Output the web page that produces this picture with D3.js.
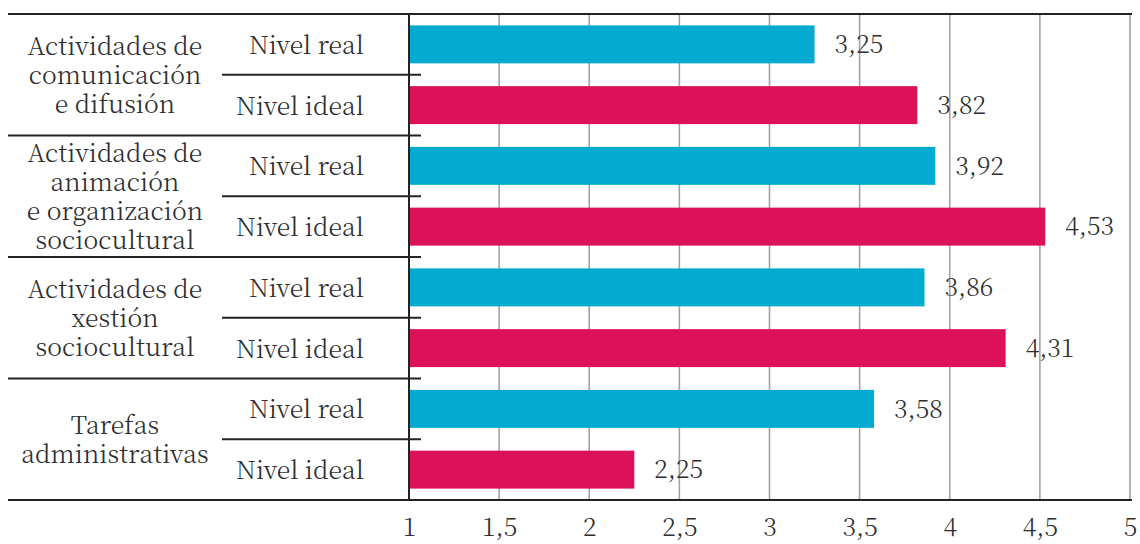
<!DOCTYPE html>
<html>
<head>
<meta charset="utf-8">
<script src="https://cdn.jsdelivr.net/npm/d3@7"></script>
<style>
  body { margin: 0; background: #fff; }
</style>
</head>
<body>
<div id="chart"></div>
<script>
// activity groups, each split into two levels
const groups = [
    ["Actividades de", "comunicación", "e difusión"],
    ["Actividades de", "animación", "e organización", "sociocultural"],
    ["Actividades de", "xestión", "sociocultural"],
    ["Tarefas", "administrativas"]
];
const levels = ["Nivel real", "Nivel ideal"];
const realValues = [3.25, 3.92, 3.86, 3.58];
const idealValues = [3.82, 4.53, 4.31, 2.25];
const xTicks = [1, 1.5, 2, 2.5, 3, 3.5, 4, 4.5, 5];
const levelColors = ["#03abd0", "#dc1159"];

const width = 1140, height = 544;
const plotTop = 14, plotBottom = 500, axisX = 409, plotRight = 1130;
const fontFamily = "'Noto Serif CJK SC', 'Liberation Serif', serif";
const fontSize = 25;
const textColor = "#2e2e2e";

// one row per group/level pair
let rows = [];
groups.forEach((g, i) => {
    rows.push({key: i + "-0", group: i, level: 0, value: realValues[i]});
    rows.push({key: i + "-1", group: i, level: 1, value: idealValues[i]});
});

const svg = d3.select("#chart").append("svg")
    .attr("width", width)
    .attr("height", height);

const x = d3.scaleLinear().domain([1, 5]).range([axisX, plotRight]);
const y = d3.scaleBand()
    .domain(rows.map(d => d.key))
    .range([plotTop, plotBottom])
    .paddingInner(0.375)
    .paddingOuter(0.1875);
const step = y.step();

function styleText(sel) {
    sel.style("font-family", fontFamily)
        .style("font-weight", 300)
        .style("font-size", fontSize + "px")
        .style("fill", textColor);
}

// vertical gridlines
svg.append("g")
    .selectAll("line")
    .data(xTicks.slice(1))
    .enter().append("line")
    .attr("x1", d => x(d)).attr("x2", d => x(d))
    .attr("y1", plotTop).attr("y2", plotBottom)
    .attr("stroke", "#a3a3a5")
    .attr("stroke-width", 1.6);

// bars
svg.append("g")
    .selectAll("rect")
    .data(rows)
    .enter().append("rect")
    .attr("x", x(1) + 1)
    .attr("y", d => y(d.key))
    .attr("width", d => x(d.value) - x(1) - 1)
    .attr("height", y.bandwidth())
    .attr("fill", d => levelColors[d.level]);

// value labels
svg.append("g")
    .selectAll("text")
    .data(rows)
    .enter().append("text")
    .attr("x", d => x(d.value) + 20)
    .attr("y", d => y(d.key) + y.bandwidth() / 2)
    .attr("dy", "0.35em")
    .call(styleText)
    .text(d => d3.format(".2f")(d.value).replace(".", ","));

// level labels
svg.append("g")
    .selectAll("text")
    .data(rows)
    .enter().append("text")
    .attr("x", 364)
    .attr("y", d => y(d.key) + y.bandwidth() / 2)
    .attr("dy", "0.38em")
    .attr("text-anchor", "end")
    .call(styleText)
    .text(d => levels[d.level]);

// group labels, centred on their two rows
const groupLabels = svg.append("g")
    .selectAll("text")
    .data(groups)
    .enter().append("text")
    .attr("text-anchor", "middle")
    .call(styleText)
    .attr("y", (d, i) => plotTop + step * (2 * i + 1));

groupLabels.selectAll("tspan")
    .data(d => d.map((t, j) => ({t: t, j: j, n: d.length})))
    .enter().append("tspan")
    .attr("x", 115)
    .attr("dy", d => d.j === 0 ? ((-(d.n - 1) / 2) * 29 + 9) + "px" : "29px")
    .text(d => d.t);

// separators: full width between groups, short between levels
const dark = "#232323";
svg.append("g")
    .selectAll("line")
    .data(d3.range(1, groups.length))
    .enter().append("line")
    .attr("x1", 8).attr("x2", axisX + 12)
    .attr("y1", d => plotTop + step * 2 * d).attr("y2", d => plotTop + step * 2 * d)
    .attr("stroke", dark).attr("stroke-width", 2);

svg.append("g")
    .selectAll("line")
    .data(groups.map((g, i) => i))
    .enter().append("line")
    .attr("x1", 222).attr("x2", axisX + 12)
    .attr("y1", d => plotTop + step * (2 * d + 1)).attr("y2", d => plotTop + step * (2 * d + 1))
    .attr("stroke", dark).attr("stroke-width", 2);

// frame lines and value axis
svg.append("line")
    .attr("x1", 8).attr("x2", 1132)
    .attr("y1", plotTop).attr("y2", plotTop)
    .attr("stroke", dark).attr("stroke-width", 2.2);
svg.append("line")
    .attr("x1", 8).attr("x2", 1132)
    .attr("y1", plotBottom).attr("y2", plotBottom)
    .attr("stroke", dark).attr("stroke-width", 2.2);
svg.append("line")
    .attr("x1", axisX).attr("x2", axisX)
    .attr("y1", plotTop).attr("y2", plotBottom)
    .attr("stroke", dark).attr("stroke-width", 2);

// x tick labels
const xAxis = d3.axisBottom(x)
    .tickValues(xTicks)
    .tickSize(0)
    .tickPadding(0)
    .tickFormat(d => String(d).replace(".", ","));

svg.append("g")
    .attr("transform", `translate(0, ${plotBottom + 36})`)
    .call(xAxis)
    .call(g => g.select(".domain").remove())
    .selectAll("text")
    .attr("dy", 0)
    .call(styleText);
</script>
</body>
</html>
